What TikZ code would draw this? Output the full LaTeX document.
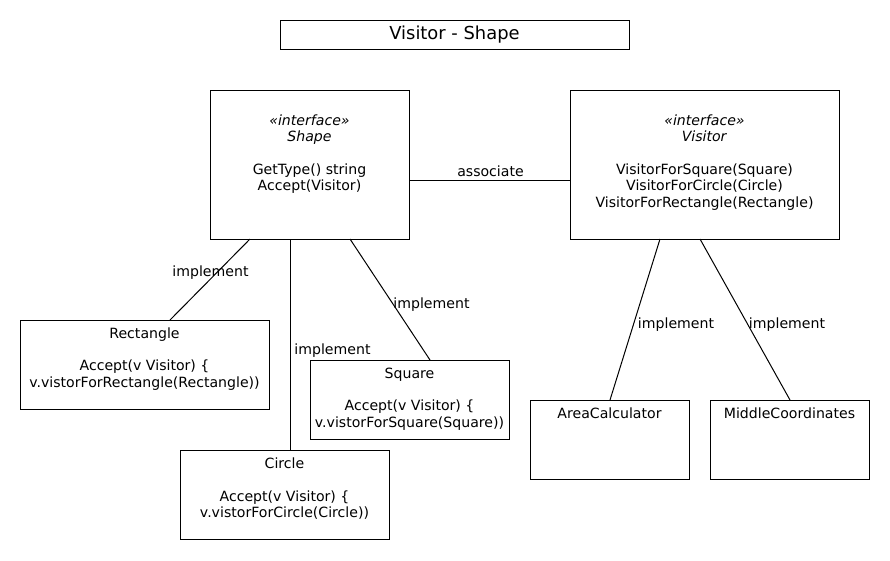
\documentclass[tikz,border=0pt]{standalone}
\usepackage{fontspec}
\setmainfont{DejaVu Sans}
\begin{document}
\begin{tikzpicture}[x=1pt,y=-1pt,line width=1pt,
  box/.style={draw, rectangle, anchor=north west, inner sep=0pt, outer sep=0pt},
  txt/.style={anchor=north, inner sep=0pt, align=center, font=\fontsize{14.1}{16.3}\selectfont},
  lbl/.style={inner sep=0pt, font=\fontsize{14.1}{16.3}\selectfont},
  conn/.style={draw, line width=1pt}]
\useasboundingbox[fill=white] (0,0) rectangle (890,560);

% boxes
\node[box, minimum width=349pt, minimum height=29pt, font=\fontsize{17.9}{20}\selectfont] (title) at (280,20) {Visitor - Shape};
\node[box, minimum width=199pt, minimum height=149pt] (shape) at (210,90) {};
\node[box, minimum width=269pt, minimum height=149pt] (visitor) at (570,90) {};
\node[box, minimum width=249pt, minimum height=89pt] (rect) at (20,320) {};
\node[box, minimum width=199pt, minimum height=79pt] (square) at (310,360) {};
\node[box, minimum width=209pt, minimum height=89pt] (circle) at (180,450) {};
\node[box, minimum width=159pt, minimum height=79pt] (area) at (530,400) {};
\node[box, minimum width=159pt, minimum height=79pt] (middle) at (710,400) {};

% box texts
\node[txt] (shapet) at ([yshift=-24.3pt]shape.north) {\textit{«interface»}\\ \textit{Shape}\\[16.3pt] GetType() string\\ Accept(Visitor)};
\node[txt] (visitort) at ([yshift=-24.3pt]visitor.north) {\textit{«interface»}\\ \textit{Visitor}\\[16.3pt] VisitorForSquare(Square)\\ VisitorForCircle(Circle)\\ VisitorForRectangle(Rectangle)};
\node[txt] (rectt) at ([yshift=-7.3pt]rect.north) {Rectangle\\[16pt] Accept(v Visitor) \{\\ v.vistorForRectangle(Rectangle))};
\node[txt] (squaret) at ([yshift=-7.6pt]square.north) {Square\\[16pt] Accept(v Visitor) \{\\ v.vistorForSquare(Square))};
\node[txt] (circlet) at ([yshift=-7.6pt]circle.north) {Circle\\[16pt] Accept(v Visitor) \{\\ v.vistorForCircle(Circle))};
\node[txt] (areat) at ([yshift=-7.3pt]area.north) {AreaCalculator};
\node[txt] (middlet) at ([yshift=-7.3pt]middle.north) {MiddleCoordinates};

% connectors
\draw[conn] ([yshift=-16pt]shape.east) -- ([yshift=-16pt]visitor.west);
\draw[conn] ([xshift=40pt]shape.south west) -- ([xshift=150pt]rect.north west);
\draw[conn] ([xshift=80pt]shape.south west) -- ([xshift=110pt]circle.north west);
\draw[conn] ([xshift=140pt]shape.south west) -- ([xshift=120pt]square.north west);
\draw[conn] ([xshift=90pt]visitor.south west) -- ([xshift=80pt]area.north west);
\draw[conn] ([xshift=130pt]visitor.south west) -- ([xshift=80pt]middle.north west);

% labels
\node[lbl] (lassoc) at (490.5,171.5) {associate};
\node[lbl] (lrect) at (210.5,272.5) {implement};
\node[lbl] (lcircle) at (332.5,350.5) {implement};
\node[lbl] (lsquare) at (431.5,304.5) {implement};
\node[lbl] (larea) at (676,324.5) {implement};
\node[lbl] (lmiddle) at (787,324.5) {implement};
\end{tikzpicture}
\end{document}
